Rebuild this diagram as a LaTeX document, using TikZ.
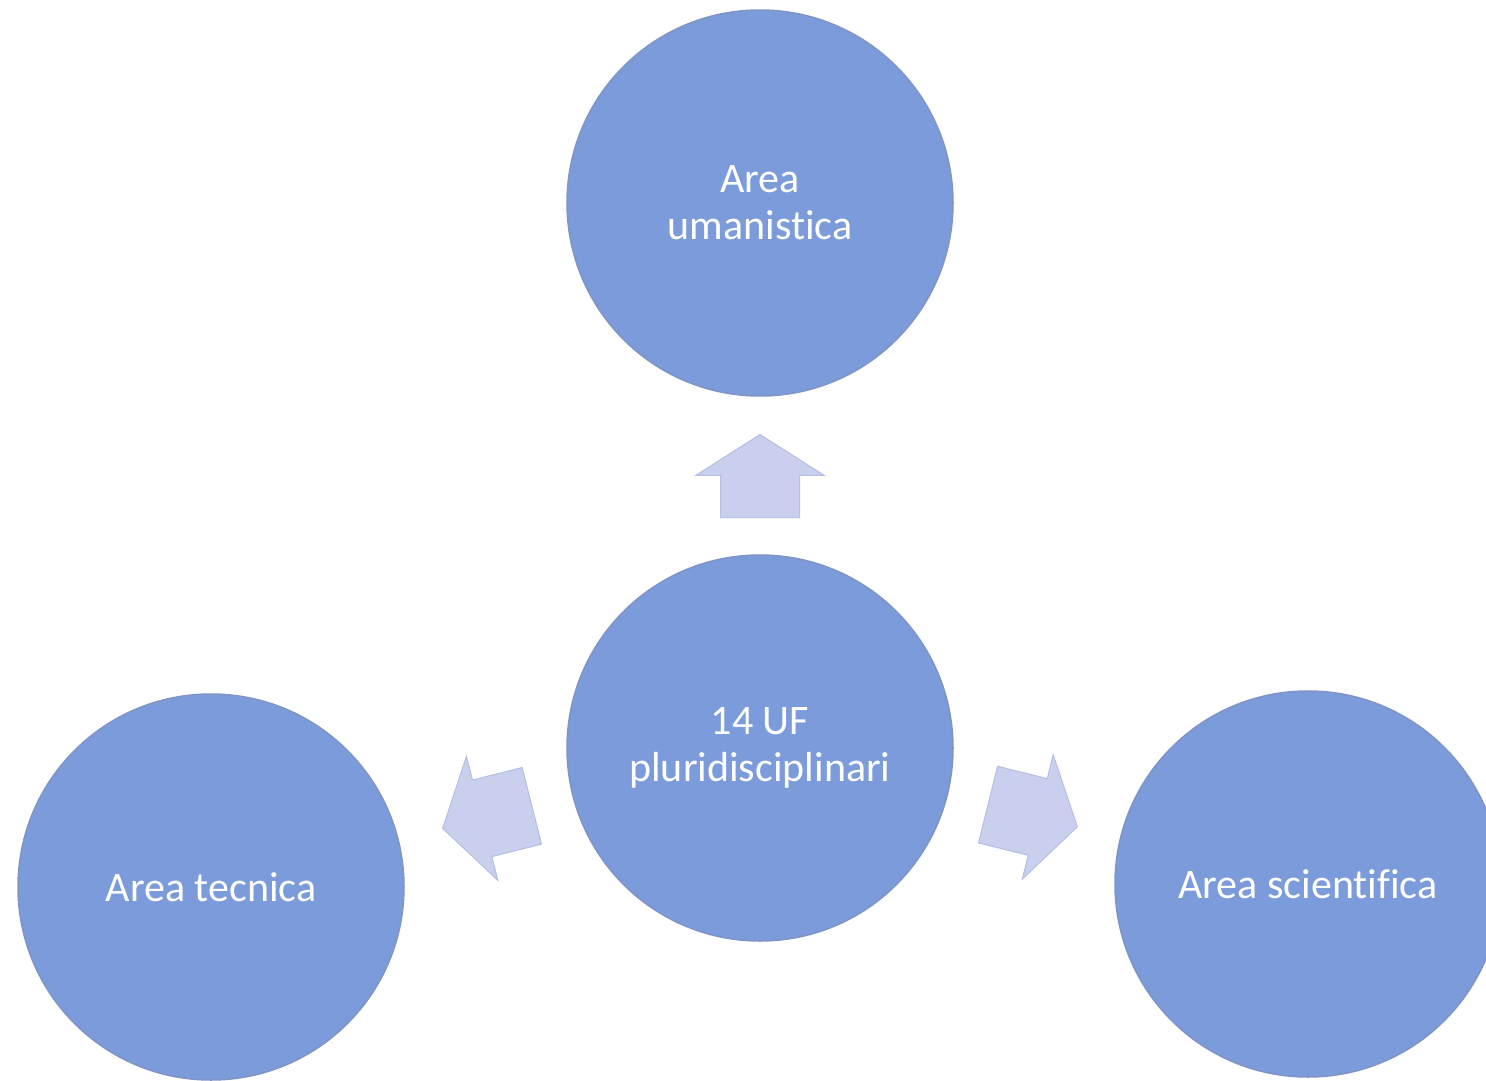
\documentclass[tikz,border=0pt]{standalone}
\usepackage{fontspec}
\setmainfont{Carlito}[Ligatures=NoCommon]
\usetikzlibrary{shapes.arrows}
\definecolor{areablue}{RGB}{123,155,219}
\definecolor{areaedge}{RGB}{128,148,198}
\definecolor{arrowfill}{RGB}{201,208,238}
\definecolor{arrowedge}{RGB}{182,190,226}
\tikzset{
  area node/.style={
    circle,
    draw=areaedge,
    line width=1.5pt,
    fill=areablue,
    minimum size=386pt,
    inner sep=0pt,
    align=center,
    text=white,
    font=\fontsize{42}{47}\selectfont,
  },
  flow arrow/.style={
    single arrow,
    draw=arrowedge,
    fill=arrowfill,
    line width=1pt,
    minimum width=127pt,
    inner xsep=0pt,
    inner ysep=39pt,
    single arrow head extend=24.5pt,
    single arrow tip angle=115,
    pos=0.23, anchor=tail, sloped, allow upside down,
  },
}

\begin{document}
\begin{tikzpicture}[x=1pt, y=-1pt]
      \useasboundingbox (0,0) rectangle (1486,1081);
      \node[area node] (umanistica) at (760,203) {Area\\umanistica};
      \node[area node] (hub) at (760,748) {14 UF\\pluridisciplinari};
      \node[area node] (tecnica) at (211,887) {Area tecnica};
      \node[area node] (scientifica) at (1308,884) {Area scientifica};

      \path (hub) -- (umanistica) node[flow arrow, minimum height=83pt] {};
      \path (hub) -- (tecnica) node[flow arrow, minimum height=92pt] {};
      \path (hub) -- (scientifica) node[flow arrow, minimum height=92pt] {};
    \end{tikzpicture}
\end{document}
